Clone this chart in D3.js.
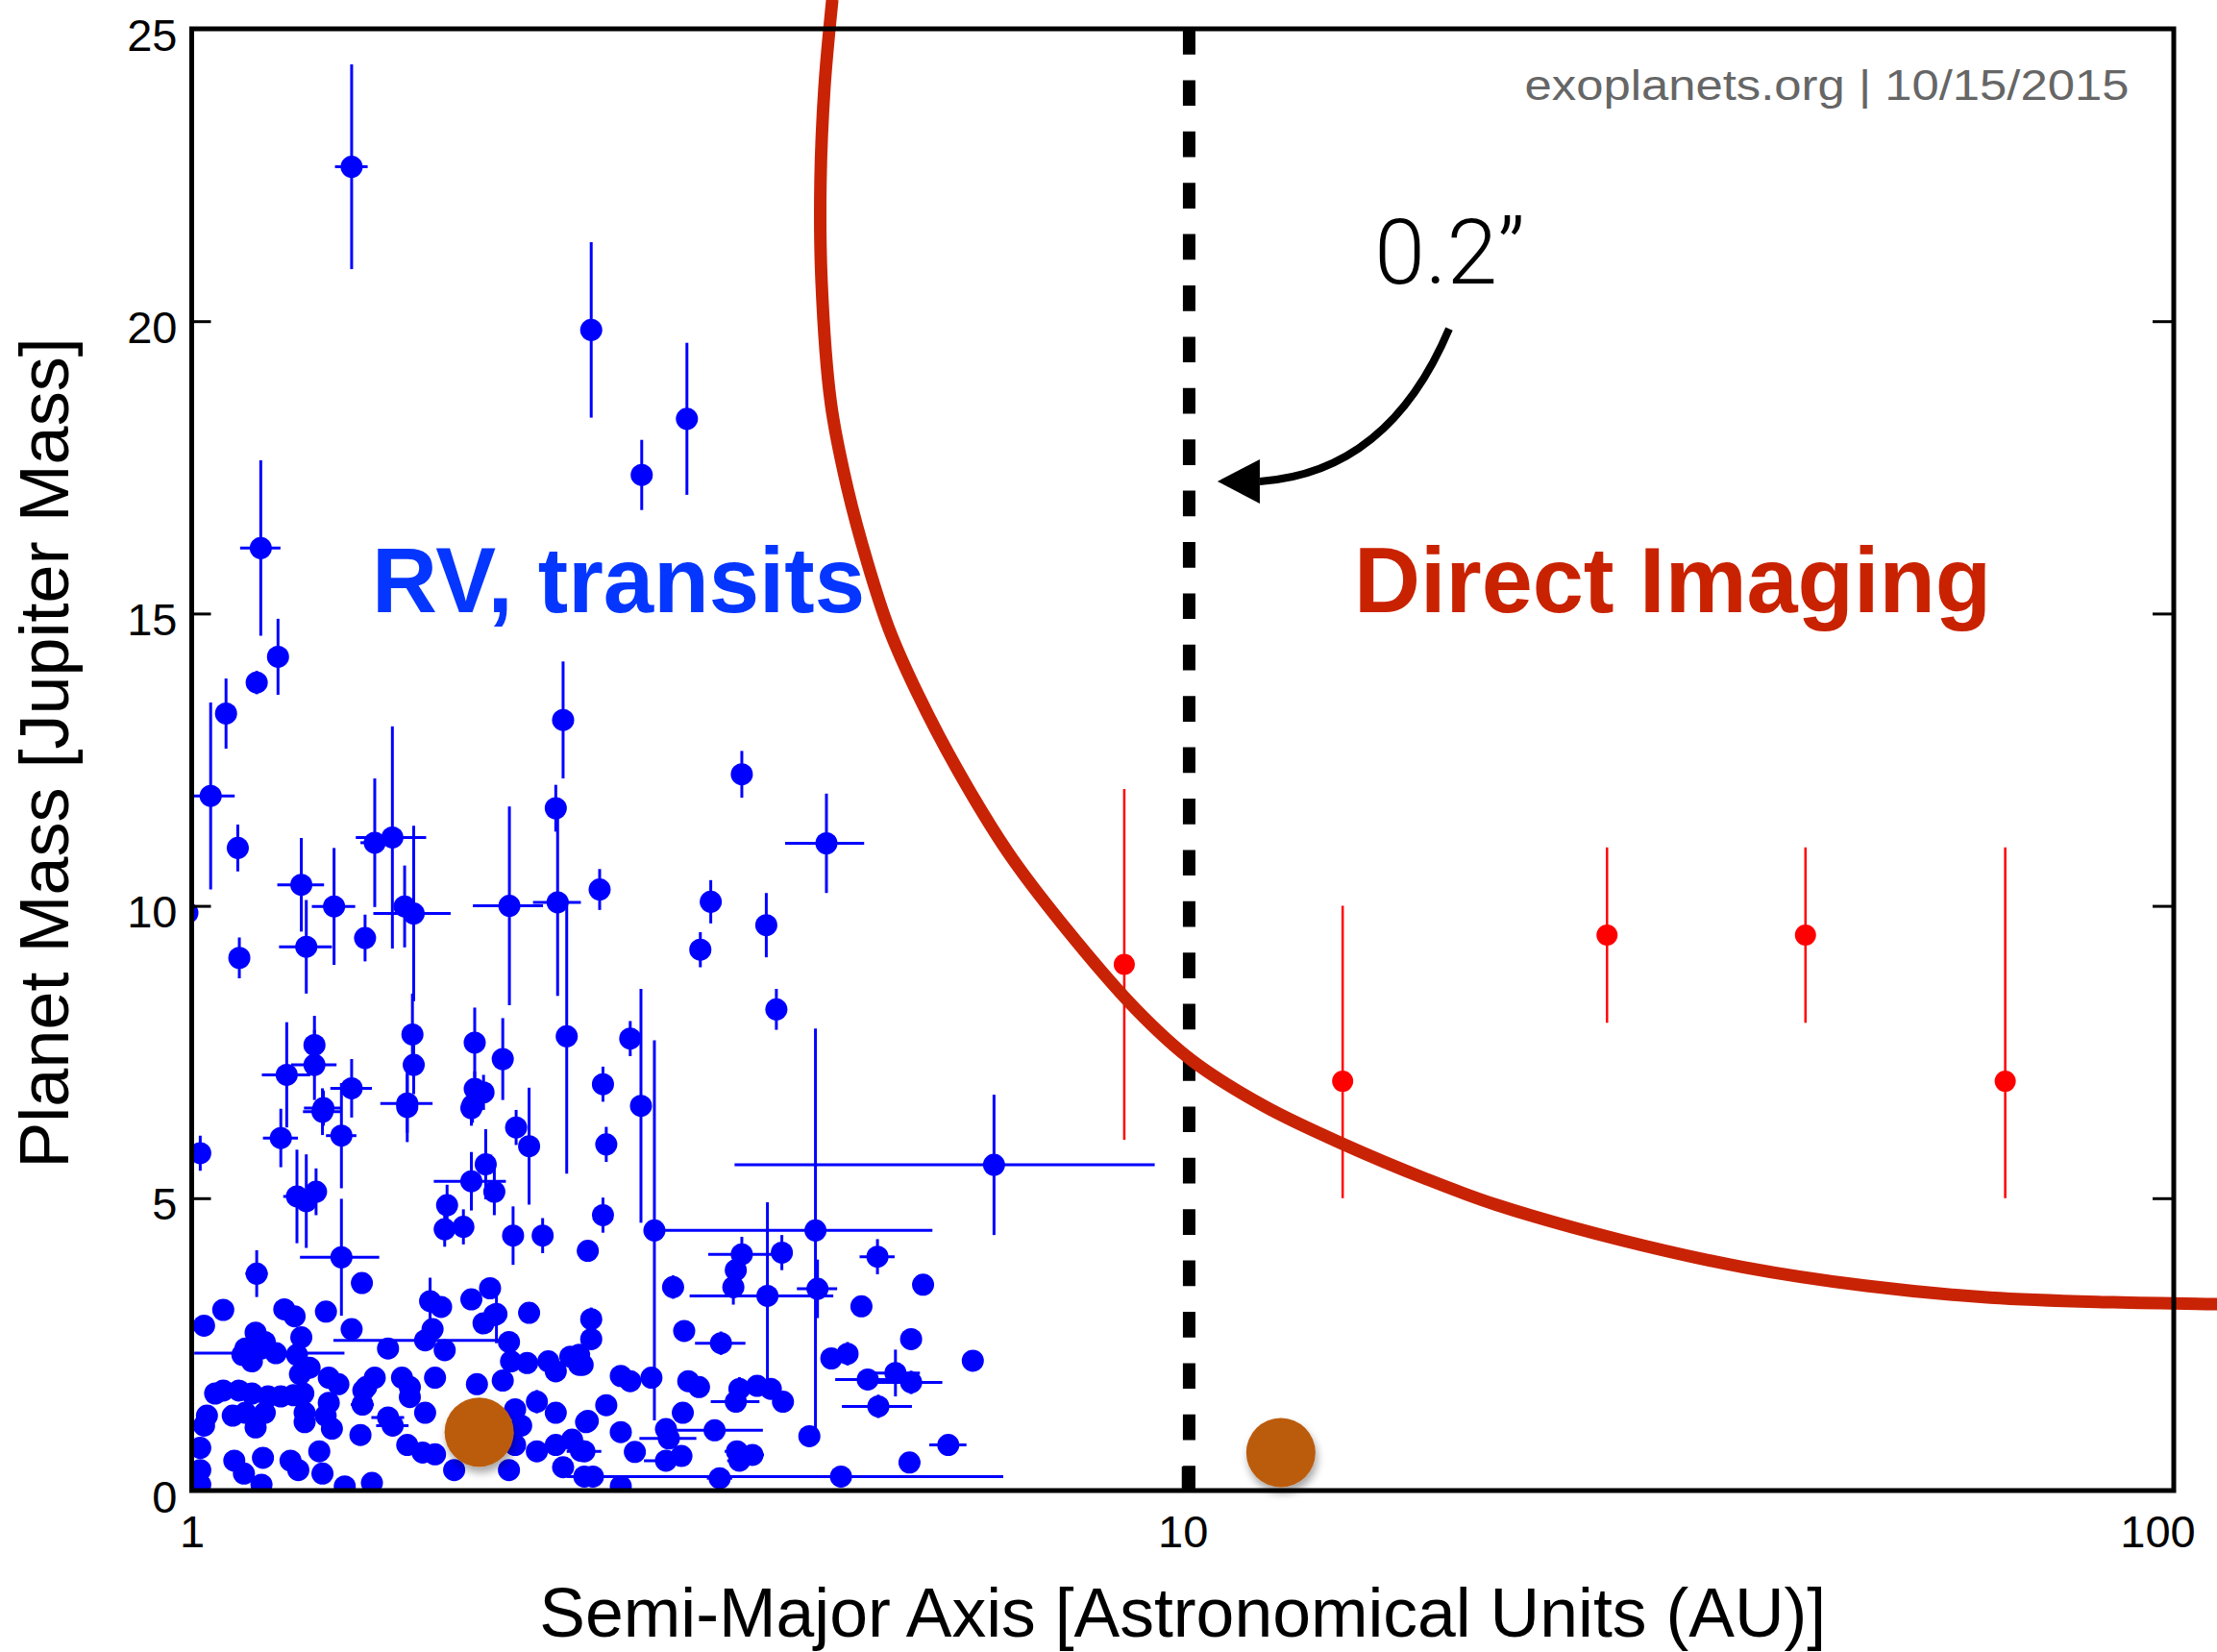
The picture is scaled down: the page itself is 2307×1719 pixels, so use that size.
<!DOCTYPE html>
<html>
<head>
<meta charset="utf-8">
<script src="https://cdn.jsdelivr.net/npm/d3@7"></script>
<style>
body { margin: 0; background: #fff; }
text { font-family: "Liberation Sans", Arial, Helvetica, sans-serif; }
</style>
</head>
<body>
<div id="chart"></div>
<script>
// RV / transit planets: [semi-major axis (AU), mass (Mjup), axis error, mass error]
var rvPlanets = [
  [1.45, 22.64, 0.055, 1.75], [2.53, 19.85, 0, 1.5], [3.16, 18.33, 0, 1.3], [2.845, 17.37, 0, 0.6],
  [1.174, 16.12, 0.055, 1.5], [1.222, 14.26, 0, 0.65], [1.163, 13.82, 0, 0.2], [1.083, 13.29, 0, 0.6],
  [1.045, 11.88, 0.06, 1.6], [1.113, 10.99, 0, 0.4], [1.29, 10.36, 0.07, 0.8], [1.392, 9.99, 0.07, 1.0],
  [1.305, 9.3, 0.08, 0.8], [1.117, 9.11, 0, 0.35], [0.99, 9.88, 0, 0.3], [1.496, 9.45, 0, 0.4],
  [1.53, 11.08, 0.05, 1.1], [1.594, 11.17, 0.13, 1.9], [1.64, 9.99, 0, 0.7], [1.675, 9.87, 0.15, 1.5],
  [2.092, 10.0, 0.17, 1.7], [2.34, 10.06, 0.13, 1.6], [2.37, 13.18, 0, 1.0], [2.33, 11.67, 0, 0.4],
  [2.58, 10.28, 0, 0.35], [3.59, 12.25, 0, 0.4], [4.37, 11.07, 0.4, 0.85], [3.34, 10.07, 0, 0.37],
  [3.26, 9.25, 0, 0.3], [3.8, 9.67, 0, 0.55], [3.89, 8.23, 0, 0.35], [1.67, 7.8, 0, 0.7],
  [1.675, 7.28, 0, 0.5], [1.33, 7.62, 0, 0.5], [1.33, 7.28, 0.07, 0.6], [1.247, 7.11, 0.07, 0.9],
  [1.45, 6.88, 0.07, 0.5], [1.358, 6.54, 0.06, 0.3], [1.65, 6.62, 0.1, 0.5], [1.93, 7.66, 0, 0.6],
  [2.06, 7.38, 0, 0.7], [1.93, 6.87, 0, 0.3], [1.97, 6.81, 0, 0.3], [1.92, 6.59, 0, 0.3],
  [2.39, 7.77, 0, 2.35], [2.77, 7.73, 0, 0.3], [2.6, 6.95, 0, 0.3], [2.84, 6.58, 0, 2.0],
  [6.45, 5.57, 2.92, 1.2], [1.02, 5.77, 0, 0.3], [1.23, 6.03, 0.05, 0.5], [1.355, 6.48, 0.06, 0.4],
  [1.416, 6.07, 0.05, 0.9], [1.65, 6.56, 0, 0.6], [1.915, 6.54, 0, 0.3], [2.125, 6.21, 0, 0.3],
  [2.19, 5.89, 0, 1.0], [1.98, 5.58, 0, 0.6], [1.915, 5.29, 0.16, 0.5], [2.02, 5.11, 0, 0.4],
  [1.277, 5.03, 0.04, 0.8], [1.305, 4.95, 0, 0.8], [1.335, 5.11, 0, 0.4], [1.81, 4.88, 0.04, 0.35],
  [1.80, 4.47, 0.04, 0.3], [1.88, 4.51, 0, 0.3], [2.11, 4.36, 0.04, 0.5], [2.26, 4.36, 0.05, 0.3],
  [2.51, 4.1, 0, 0], [1.416, 3.99, 0.13, 1.0], [1.163, 3.71, 0.03, 0.4], [1.485, 3.55, 0, 0],
  [2.0, 3.46, 0, 0], [1.915, 3.27, 0, 0], [1.74, 3.24, 0.03, 0.4], [1.785, 3.14, 0, 0],
  [1.076, 3.09, 0, 0], [1.24, 3.1, 0, 0], [1.27, 2.98, 0, 0], [1.366, 3.06, 0, 0],
  [1.029, 2.82, 0, 0], [2.03, 3.02, 0.04, 0.5], [2.19, 3.04, 0, 0], [1.16, 2.7, 0, 0],
  [1.185, 2.54, 0, 0], [1.133, 2.43, 0, 0], [1.45, 2.76, 0, 0], [1.216, 2.35, 0.21, 0],
  [1.578, 2.43, 0, 0], [1.72, 2.57, 0.33, 0], [1.75, 2.76, 0, 0], [1.80, 2.4, 0, 0],
  [1.97, 2.86, 0, 0], [2.02, 3.0, 0.03, 0], [2.09, 2.54, 0, 0], [2.1, 2.21, 0, 0],
  [2.18, 2.18, 0, 0], [2.29, 2.21, 0, 0], [2.33, 2.04, 0, 0], [2.41, 2.29, 0, 0],
  [2.48, 2.15, 0, 0], [1.125, 2.32, 0, 0], [1.176, 2.43, 0, 0], [1.15, 2.21, 0, 0],
  [1.29, 2.62, 0, 0], [1.277, 2.32, 0, 0], [1.286, 1.99, 0, 0], [1.315, 2.1, 0, 0],
  [1.375, 1.93, 0, 0], [1.406, 1.82, 0, 0], [1.53, 1.93, 0, 0], [1.5, 1.77, 0, 0],
  [1.63, 1.93, 0, 0], [1.66, 1.77, 0, 0], [1.66, 1.6, 0, 0], [1.76, 1.93, 0, 0],
  [1.94, 1.82, 0, 0], [2.06, 1.88, 0, 0], [1.056, 1.66, 0, 0], [1.076, 1.71, 0, 0],
  [1.116, 1.71, 0, 0], [1.15, 1.66, 0, 0], [1.194, 1.61, 0, 0], [1.23, 1.61, 0, 0],
  [1.267, 1.63, 0, 0], [1.296, 1.66, 0, 0], [1.375, 1.5, 0, 0], [1.487, 1.47, 0.04, 0],
  [1.49, 1.71, 0, 0], [1.578, 1.25, 0.06, 0], [1.595, 1.11, 0.06, 0], [1.72, 1.33, 0, 0],
  [1.036, 1.28, 0, 0], [1.029, 1.11, 0, 0], [1.1, 1.28, 0, 0], [1.133, 1.33, 0, 0],
  [1.16, 1.08, 0, 0], [1.185, 1.33, 0, 0], [1.30, 1.33, 0, 0], [1.30, 1.17, 0, 0],
  [1.365, 1.28, 0, 0], [1.385, 1.06, 0, 0], [1.48, 0.95, 0, 0], [1.65, 0.78, 0, 0],
  [1.71, 0.65, 0, 0], [1.76, 0.62, 0, 0], [1.84, 0.35, 0, 0], [2.09, 0.35, 0, 0],
  [2.12, 1.39, 0, 0], [2.23, 1.52, 0, 0.2], [2.33, 1.33, 0, 0], [2.15, 1.11, 0, 0],
  [2.12, 0.78, 0, 0], [2.23, 0.67, 0, 0], [2.33, 0.78, 0, 0], [2.42, 0.87, 0, 0],
  [2.5, 1.17, 0, 0], [2.49, 0.67, 0.1, 0], [2.37, 0.4, 0, 0], [2.49, 0.24, 0.1, 0],
  [1.02, 0.73, 0, 0], [1.02, 0.35, 0, 0], [1.02, 0.1, 0, 0], [1.104, 0.51, 0, 0],
  [1.129, 0.29, 0, 0], [1.18, 0.56, 0, 0], [1.176, 0.1, 0, 0], [1.258, 0.51, 0, 0],
  [1.281, 0.35, 0, 0], [1.355, 0.29, 0, 0], [1.345, 0.67, 0, 0], [1.427, 0.07, 0, 0],
  [1.52, 0.13, 0, 0], [2.62, 5.92, 0, 0.3], [2.93, 4.45, 0, 3.25], [4.26, 4.45, 1.33, 3.45],
  [2.6, 4.71, 0.04, 0.3], [3.59, 4.04, 0.27, 0.3], [3.94, 4.07, 0, 0.3], [3.54, 3.77, 0, 0],
  [3.52, 3.48, 0.05, 0.3], [3.81, 3.33, 0.63, 1.6], [4.28, 3.45, 0.2, 0.5], [4.92, 4.0, 0.2, 0.3],
  [5.47, 3.52, 0, 0], [4.74, 3.15, 0, 0], [3.06, 3.48, 0, 0.2], [3.14, 2.73, 0, 0],
  [3.42, 2.52, 0.2, 0.2], [2.53, 2.93, 0, 0.2], [2.53, 2.59, 0, 0], [2.46, 2.32, 0, 0],
  [2.46, 2.15, 0, 0], [2.71, 1.96, 0, 0], [2.77, 1.87, 0, 0], [2.91, 1.93, 0, 0],
  [3.17, 1.87, 0, 0], [3.25, 1.77, 0, 0], [3.57, 1.74, 0, 0.2], [3.72, 1.79, 0, 0],
  [3.84, 1.74, 0, 0], [3.95, 1.52, 0.05, 0], [3.54, 1.52, 0.2, 0], [4.42, 2.26, 0.1, 0],
  [4.59, 2.34, 0.08, 0.2], [5.32, 2.59, 0.08, 0], [4.81, 1.9, 0.35, 0], [5.13, 2.01, 0.3, 0.4],
  [5.32, 1.85, 0.4, 0.2], [4.93, 1.44, 0.4, 0.2], [6.14, 2.22, 0, 0], [2.62, 1.46, 0, 0],
  [2.51, 1.19, 0.05, 0], [3.13, 1.33, 0, 0], [2.71, 1.0, 0, 0], [2.8, 0.66, 0, 0],
  [3.01, 1.05, 0, 0], [3.03, 0.89, 0.2, 0], [3.01, 0.51, 0.15, 0], [3.12, 0.59, 0, 0],
  [3.37, 1.03, 0.4, 0], [3.55, 0.67, 0.1, 0], [3.68, 0.61, 0.1, 0], [3.57, 0.51, 0.1, 0],
  [4.2, 0.93, 0, 0], [5.3, 0.48, 0, 0], [5.8, 0.78, 0.25, 0], [4.52, 0.24, 2.07, 0],
  [2.54, 0.24, 0, 0], [3.41, 0.21, 0.1, 0], [2.71, 0.07, 0, 0], [2.47, 0.68, 0, 0]
];

// directly imaged planets: [AU, mass, mass low, mass high]
var imagedPlanets = [
  [8.73, 9.0, 6.0, 12.0],
  [14.5, 7.0, 5.0, 10.0],
  [26.8, 9.5, 8.0, 11.0],
  [42.5, 9.5, 8.0, 11.0],
  [67.6, 7.0, 5.0, 11.0]
];

// brown reference planets: [AU, mass]
var solarPlanets = [[1.95, 1.0], [12.56, 0.65]];

// 0.2 arcsec detection limit curve: [AU, mass]
var limitCurve = [
  [4.43, 25.5], [4.35, 24.0], [4.31, 22.4], [4.32, 20.7], [4.415, 18.6], [4.58, 17.2],
  [4.81, 15.85], [5.05, 14.75], [5.39, 13.66], [5.92, 12.34], [6.66, 10.92], [7.55, 9.7],
  [8.97, 8.23], [10.21, 7.36], [12.1, 6.57], [14.5, 5.93], [17.6, 5.33], [20.7, 4.89],
  [27.6, 4.29], [36.8, 3.82], [49.0, 3.5], [65.3, 3.3], [86.9, 3.22], [110.6, 3.19]
];

var innerWorkingAngleAU = 10.15;
var xTicks = [1, 10, 100];
var yTicks = [0, 5, 10, 15, 20, 25];

// annotation anchors in data units
var arrowFrom = [18.57, 19.87], arrowBend = [16.13, 17.41], arrowTo = [11.96, 17.26], arrowTip = [10.84, 17.26];
var angleLabelAt = [15.61, 20.64];
var rvLabelAt = [1.52, 15.03];
var diLabelAt = [14.89, 15.03];
var creditAt = [22.13, 23.78];

const w = 2307;
const h = 1719;
const plotLeft = 199.5, plotRight = 2262, plotTop = 30, plotBottom = 1551;

const svg = d3.select("#chart").append("svg")
    .attr("width", w)
    .attr("height", h);

const defs = svg.append("defs");
defs.append("clipPath").attr("id", "plotClip")
    .append("rect")
    .attr("x", plotLeft).attr("y", plotTop)
    .attr("width", plotRight - plotLeft).attr("height", plotBottom - plotTop);
defs.append("filter").attr("id", "shadow")
    .attr("x", "-50%").attr("y", "-50%").attr("width", "200%").attr("height", "200%")
    .append("feDropShadow")
    .attr("dx", 2).attr("dy", 6).attr("stdDeviation", 4)
    .attr("flood-color", "#000").attr("flood-opacity", 0.35);

const xScale = d3.scaleLog().domain([1, 100]).range([plotLeft, plotRight]);
const yScale = d3.scaleLinear().domain([0, 25]).range([plotBottom, plotTop]);

const plot = svg.append("g").attr("clip-path", "url(#plotClip)");

// blue error bars
plot.selectAll(".rvx")
    .data(rvPlanets.filter((d) => d[2] > 0))
    .enter()
    .append("line")
    .attr("x1", (d) => xScale(d[0] - d[2]))
    .attr("x2", (d) => xScale(d[0] + d[2]))
    .attr("y1", (d) => yScale(d[1]))
    .attr("y2", (d) => yScale(d[1]))
    .attr("stroke", "#0000ff")
    .attr("stroke-width", 3);

plot.selectAll(".rvy")
    .data(rvPlanets.filter((d) => d[3] > 0))
    .enter()
    .append("line")
    .attr("x1", (d) => xScale(d[0]))
    .attr("x2", (d) => xScale(d[0]))
    .attr("y1", (d) => yScale(d[1] - d[3]))
    .attr("y2", (d) => yScale(d[1] + d[3]))
    .attr("stroke", "#0000ff")
    .attr("stroke-width", 3);

plot.selectAll(".rv")
    .data(rvPlanets)
    .enter()
    .append("circle")
    .attr("cx", (d) => xScale(d[0]))
    .attr("cy", (d) => yScale(d[1]))
    .attr("r", 11.5)
    .attr("fill", "#0000ff");

// red imaged planets
plot.selectAll(".diy")
    .data(imagedPlanets)
    .enter()
    .append("line")
    .attr("x1", (d) => xScale(d[0]))
    .attr("x2", (d) => xScale(d[0]))
    .attr("y1", (d) => yScale(d[2]))
    .attr("y2", (d) => yScale(d[3]))
    .attr("stroke", "#ff0000")
    .attr("stroke-width", 2.5);

plot.selectAll(".di")
    .data(imagedPlanets)
    .enter()
    .append("circle")
    .attr("cx", (d) => xScale(d[0]))
    .attr("cy", (d) => yScale(d[1]))
    .attr("r", 11)
    .attr("fill", "#ff0000");

// brown planets
svg.selectAll(".solar")
    .data(solarPlanets)
    .enter()
    .append("circle")
    .attr("cx", (d) => xScale(d[0]))
    .attr("cy", (d) => yScale(d[1]))
    .attr("r", 36)
    .attr("fill", "#bb5b0e")
    .attr("filter", "url(#shadow)");

// 0.2" dashed line
svg.append("line")
    .attr("x1", xScale(innerWorkingAngleAU))
    .attr("x2", xScale(innerWorkingAngleAU))
    .attr("y1", yScale(25))
    .attr("y2", yScale(0))
    .attr("stroke", "#000")
    .attr("stroke-width", 13)
    .attr("stroke-dasharray", "26.7,26.7");

// detection limit curve
const curveLine = d3.line()
    .x((d) => xScale(d[0]))
    .y((d) => yScale(d[1]))
    .curve(d3.curveCatmullRom.alpha(0.5));

svg.append("path")
    .datum(limitCurve)
    .attr("d", curveLine)
    .attr("fill", "none")
    .attr("stroke", "#c92306")
    .attr("stroke-width", 13)
    .attr("stroke-linejoin", "round");

// Axes
const yAxis = d3.axisLeft(yScale).tickValues(yTicks).tickSizeInner(-20).tickSizeOuter(0).tickPadding(15);
const xAxis = d3.axisBottom(xScale).tickValues(xTicks).tickFormat(d3.format("d"))
    .tickSizeInner(-25).tickSizeOuter(0).tickPadding(26);

const gy = svg.append("g")
    .attr("transform", "translate(" + plotLeft + ",0)")
    .call(yAxis);
gy.selectAll("text").attr("dy", "0.47em");

const gx = svg.append("g")
    .attr("transform", "translate(0," + plotBottom + ")")
    .call(xAxis);
gx.selectAll("text").filter((d) => d === 100).attr("x", -17);

svg.append("g")
    .attr("transform", "translate(" + plotRight + ",0)")
    .call(d3.axisRight(yScale).tickValues(yTicks).tickSizeInner(-22).tickSizeOuter(0).tickFormat(""))
    .select(".domain").remove();

[gx, gy].forEach((g) => {
    g.select(".domain").remove();
    g.selectAll("text").style("font-size", "47px").attr("fill", "#000");
});
svg.selectAll(".tick line").attr("stroke", "#000").attr("stroke-width", 3);

// frame
svg.append("rect")
    .attr("x", plotLeft).attr("y", plotTop)
    .attr("width", plotRight - plotLeft).attr("height", plotBottom - plotTop)
    .attr("fill", "none")
    .attr("stroke", "#000")
    .attr("stroke-width", 5);

// axis titles
svg.append("text")
    .attr("x", (plotLeft + plotRight) / 2)
    .attr("y", 1703)
    .attr("text-anchor", "middle")
    .style("font-size", "71.5px")
    .text("Semi-Major Axis [Astronomical Units (AU)]");

svg.append("text")
    .attr("transform", "translate(71,783.5) rotate(-90)")
    .attr("text-anchor", "middle")
    .style("font-size", "72px")
    .text("Planet Mass [Jupiter Mass]");

// labels
svg.append("text")
    .attr("x", xScale(rvLabelAt[0])).attr("y", yScale(rvLabelAt[1]))
    .attr("textLength", 513).attr("lengthAdjust", "spacingAndGlyphs")
    .style("font-size", "97px").style("font-weight", "bold")
    .attr("fill", "#0536ff")
    .text("RV, transits");

svg.append("text")
    .attr("x", xScale(diLabelAt[0])).attr("y", yScale(diLabelAt[1]))
    .attr("textLength", 663).attr("lengthAdjust", "spacingAndGlyphs")
    .style("font-size", "97px").style("font-weight", "bold")
    .attr("fill", "#c92200")
    .text("Direct Imaging");

svg.append("text")
    .attr("x", xScale(creditAt[0])).attr("y", yScale(creditAt[1]))
    .attr("textLength", 629).attr("lengthAdjust", "spacingAndGlyphs")
    .style("font-size", "44px")
    .attr("fill", "#666")
    .text("exoplanets.org | 10/15/2015");

svg.append("text")
    .attr("x", xScale(angleLabelAt[0])).attr("y", yScale(angleLabelAt[1]))
    .style("font-size", "95px")
    .style("font-family", "Roboto, Lato, 'Liberation Sans', sans-serif")
    .style("font-weight", 300)
    .attr("fill", "#000")
    .text("0.2\u201D");

// arrow
const arrowPath = d3.path();
arrowPath.moveTo(xScale(arrowFrom[0]), yScale(arrowFrom[1]));
arrowPath.quadraticCurveTo(xScale(arrowBend[0]), yScale(arrowBend[1]), xScale(arrowTo[0]), yScale(arrowTo[1]));
svg.append("path")
    .attr("d", arrowPath.toString())
    .attr("fill", "none")
    .attr("stroke", "#000")
    .attr("stroke-width", 8);

const tipX = xScale(arrowTip[0]), tipY = yScale(arrowTip[1]), baseX = xScale(arrowTo[0]);
svg.append("path")
    .attr("d", "M" + tipX + "," + tipY + "L" + baseX + "," + (tipY - 23) + "L" + baseX + "," + (tipY + 23) + "Z")
    .attr("fill", "#000");
</script>
</body>
</html>
